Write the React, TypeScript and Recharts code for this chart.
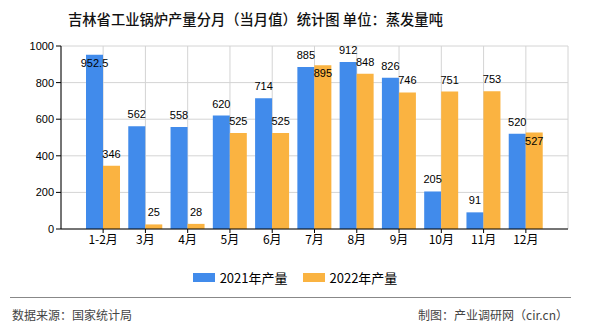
import React from 'react';
import { BarChart, Bar, XAxis, YAxis, CartesianGrid, LabelList } from 'recharts';

const months = ['1-2月', '3月', '4月', '5月', '6月', '7月', '8月', '9月', '10月', '11月', '12月'];
const output2021 = [952.5, 562, 558, 620, 714, 885, 912, 826, 205, 91, 520];
const output2022 = [346, 25, 28, 525, 525, 895, 848, 746, 751, 753, 527];
const yTicks = [0, 200, 400, 600, 800, 1000];

const BLUE = '#418BEB';
const ORANGE = '#FAB341';

const data = months.map((m, i) => ({ month: m, y2021: output2021[i], y2022: output2022[i] }));

// labels sit above the bar, unless they'd hit the top or the neighbour's label
const makeLabel = (series: 'a' | 'b') => (props: any) => {
    const { x, y, width, value, index } = props;
    let inside = false;
    if (series === 'a') inside = value > 940;
    else inside = Math.abs(output2022[index] - output2021[index]) < 30;
    const cy = inside ? y + 8 : y - 12;
    return (
        <text
            x={x + width / 2}
            y={cy + 4}
            textAnchor="middle"
            fontSize={11}
            fontFamily="'Liberation Sans', sans-serif"
            fill="#000"
        >
            {value}
        </text>
    );
};

export default function App() {
    return (
        <div style={{ position: 'relative', width: 590, height: 330, background: '#fff', fontFamily: "'Noto Sans CJK SC', sans-serif" }}>
            <style>{`body{margin:0}`}</style>
            <div style={{ position: 'absolute', left: 68, top: 8, fontSize: 14.3, fontWeight: 500, color: '#111', whiteSpace: 'nowrap' }}>
                吉林省工业锅炉产量分月（当月值）统计图 单位：蒸发量吨
            </div>
            <BarChart
                width={590}
                height={330}
                data={data}
                margin={{ top: 46, right: 22, left: 11, bottom: 71 }}
                barCategoryGap={4}
                barGap={0}
            >
                <CartesianGrid stroke="#d4d4d4" />
                <XAxis
                    dataKey="month"
                    padding={{ left: 21, right: 21 }}
                    height={30}
                    tickSize={4}
                    stroke="#000"
                    tick={{ fontSize: 12, fill: '#000' }}
                    interval={0}
                />
                <YAxis
                    width={50}
                    domain={[0, 1000]}
                    ticks={yTicks}
                    tickSize={5}
                    stroke="#000"
                    tick={{ fontSize: 11, fill: '#000', fontFamily: "'Liberation Sans', sans-serif" }}
                />
                <YAxis yAxisId="r" orientation="right" width={0} tick={false} stroke="#d4d4d4" />
                <Bar dataKey="y2021" name="2021年产量" fill={BLUE} isAnimationActive={false}>
                    <LabelList dataKey="y2021" content={makeLabel('a')} />
                </Bar>
                <Bar dataKey="y2022" name="2022年产量" fill={ORANGE} isAnimationActive={false}>
                    <LabelList dataKey="y2022" content={makeLabel('b')} />
                </Bar>
            </BarChart>
            <div style={{ position: 'absolute', left: 0, width: 590, top: 268, display: 'flex', justifyContent: 'center', alignItems: 'center', fontSize: 13, color: '#000' }}>
                <span style={{ display: 'inline-block', width: 22, height: 9, background: BLUE, marginRight: 5 }} />
                <span style={{ marginRight: 15 }}>2021年产量</span>
                <span style={{ display: 'inline-block', width: 22, height: 9, background: ORANGE, marginRight: 5 }} />
                <span>2022年产量</span>
            </div>
            <div style={{ position: 'absolute', left: 10, right: 19, top: 297, borderTop: '1px solid #888' }} />
            <div style={{ position: 'absolute', left: 12, top: 306, fontSize: 12, color: '#444' }}>数据来源：国家统计局</div>
            <div style={{ position: 'absolute', right: 22, top: 306, fontSize: 12, color: '#444' }}>制图：产业调研网（cir.cn）</div>
        </div>
    );
}
